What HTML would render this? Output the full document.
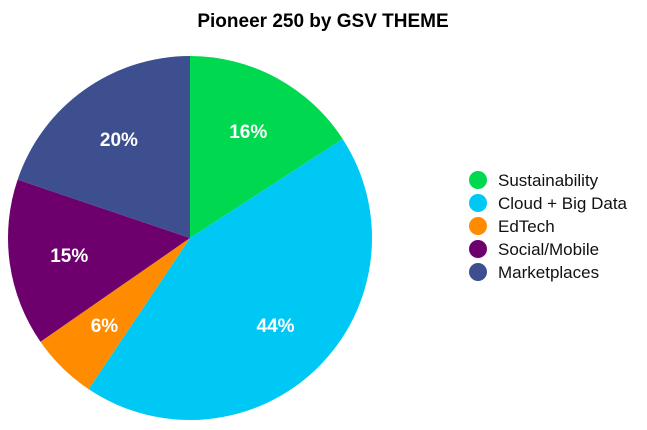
<!DOCTYPE html>
<html><head><meta charset="utf-8"><style>
body{margin:0;background:#fff;width:647px;height:425px;overflow:hidden;font-family:"Liberation Sans",sans-serif}
</style></head><body>
<svg width="647" height="425">
<text x="323" y="27" text-anchor="middle" font-size="19" font-weight="bold" fill="#000">Pioneer 250 by GSV THEME</text>
<g id="slices"></g><g id="labels"></g><g id="legend"></g>
</svg>
<script>
const categories=["Sustainability","Cloud + Big Data","EdTech","Social/Mobile","Marketplaces"];
const values=[16,44,6,15,20];
const colors=["#00d94f","#00c8f5","#ff8c00","#6e006e","#3d4f8f"];
const ns="http://www.w3.org/2000/svg";
const cx=190,cy=238,r=182;
const total=values.reduce((a,b)=>a+b,0);
const sg=document.getElementById('slices'),lg=document.getElementById('labels'),leg=document.getElementById('legend');
let a0=0;
function pt(a,rr){return [cx+rr*Math.sin(a),cy-rr*Math.cos(a)];}
values.forEach((v,i)=>{
 const a1=a0+v/total*2*Math.PI;
 const p0=pt(a0,r),p1=pt(a1,r);
 const p=document.createElementNS(ns,'path');
 p.setAttribute('d',`M${cx},${cy}L${p0[0]},${p0[1]}A${r},${r} 0 ${a1-a0>Math.PI?1:0} 1 ${p1[0]},${p1[1]}Z`);
 p.setAttribute('fill',colors[i]);
 
 
 sg.appendChild(p);
 const m=pt((a0+a1)/2,r*0.67);
 const t=document.createElementNS(ns,'text');
 t.setAttribute('x',m[0]);t.setAttribute('y',m[1]+7);
 t.setAttribute('text-anchor','middle');t.setAttribute('font-size','19');t.setAttribute('font-weight','bold');t.setAttribute('fill','#fff');
 t.textContent=v+'%';
 
 
 lg.appendChild(t);
 const y=180+i*23;
 const c=document.createElementNS(ns,'circle');
 c.setAttribute('cx',478);c.setAttribute('cy',y);c.setAttribute('r',9);c.setAttribute('fill',colors[i]);
 
 
 leg.appendChild(c);
 const lt=document.createElementNS(ns,'text');
 lt.setAttribute('x',498);lt.setAttribute('y',y+6);lt.setAttribute('font-size','17');lt.setAttribute('fill','#111');
 lt.textContent=categories[i];
 
 
 leg.appendChild(lt);
 a0=a1;
});
</script>
</body></html>
